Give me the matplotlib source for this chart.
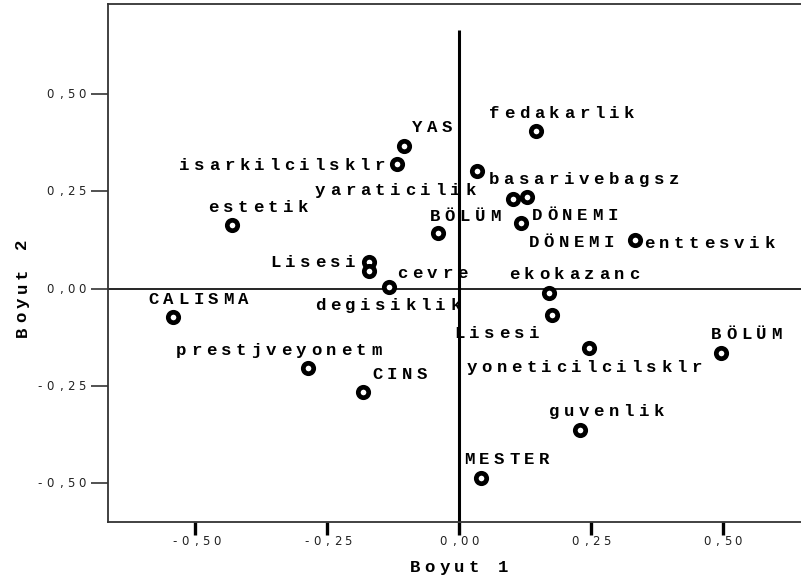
import matplotlib
matplotlib.use("Agg")
import matplotlib.pyplot as plt
import matplotlib.transforms as mtransforms

# ---------------- data ----------------
labels = ["fedakarlik", "YAS", "isarkilcilsklr", "basarivebagsz", "yaraticilik",
          "DÖNEMI", "DÖNEMI", "BÖLÜM", "enttesvik", "estetik", "Lisesi", "cevre",
          "degisiklik", "ekokazanc", "Lisesi", "CALISMA", "prestjveyonetm", "CINS",
          "yoneticilcilsklr", "BÖLÜM", "guvenlik", "MESTER"]
dim1 = [0.146, -0.104, -0.118, 0.034, 0.102, 0.129, 0.118, -0.040, 0.334, -0.431,
        -0.171, -0.171, -0.133, 0.171, 0.176, -0.543, -0.287, -0.182, 0.247, 0.498,
        0.230, 0.042]
dim2 = [0.405, 0.367, 0.320, 0.303, 0.231, 0.236, 0.169, 0.143, 0.125, 0.164,
        0.068, 0.045, 0.004, -0.012, -0.068, -0.074, -0.205, -0.265, -0.152, -0.166,
        -0.364, -0.487]
tick_vals = [-0.50, -0.25, 0.00, 0.25, 0.50]
xlabel = "Boyut 1"
ylabel = "Boyut 2"

# label placement (pixel offsets from the point, anchor)
label_pos = [(25.7, 17.7, "center"), (28, 19, "center"), (-10, -1, "right"),
             (9.3, -8.3, "left"), (-35, 9, "right"), (3, -18, "left"),
             (5, -18.7, "left"), (27, 17, "center"), (6.7, -2.7, "left"),
             (26, 18, "center"), (-11, 0, "right"), (26, -2, "left"),
             (-1, -18, "center"), (25, 19, "center"), (-10, -18.3, "right"),
             (25.5, 18, "center"), (-29, 18.3, "center"), (36.7, 17.4, "center"),
             (-5, -19.6, "center"), (25, 19, "center"), (26, 19, "center"),
             (25.7, 18.4, "center")]

W, H = 801, 581
fig = plt.figure(figsize=(W / 100, H / 100), dpi=100)
left_px, right_px, top_px, bottom_px = 107.7, 801, 4, 521.7
ax = fig.add_axes([left_px / W, 1 - bottom_px / H,
                   (right_px - left_px) / W, (bottom_px - top_px) / H])

x0_px, xs = 459.0, 527.0
y0_px, ys = 288.6, 388.7
ax.set_xlim((left_px - x0_px) / xs, (right_px - x0_px) / xs)
ax.set_ylim((y0_px - bottom_px) / ys, (y0_px - top_px) / ys)

LABEL_FONT = dict(family="Liberation Mono", fontweight="bold", fontsize=12.5, color="black")
TICK_FONT = dict(family="DejaVu Sans", fontsize=8.5, color="#222222")


def spaced_text(x, y, s, transform, pitch, ha="center", dx=0.0, dy=0.0,
                rotation=0, va="baseline", **kw):
    n = len(s)
    w = n * pitch
    start = {"left": 0.0, "center": -w / 2.0, "right": -w}[ha]
    for i, ch in enumerate(s):
        if ch == " ":
            continue
        off = start + (i + 0.5) * pitch
        if rotation == 0:
            tx, ty = dx + off, dy
        else:
            tx, ty = dx, dy + off
        tr = mtransforms.offset_copy(transform, fig=fig, x=tx, y=ty, units="dots")
        ax.text(x, y, ch, transform=tr, ha="center", va=va, rotation=rotation,
                clip_on=False, **kw)


# reference lines
ax.axhline(0, color="black", lw=1.2, zorder=1)
ax.vlines(0, ax.get_ylim()[0], 0.665, color="black", lw=2.2, zorder=1)

# points
ax.plot(dim1, dim2, linestyle="none", marker="o", ms=7.5, mew=3.4,
        mfc="white", mec="black", zorder=3)

# point labels
for xv, yv, lab, (dx, dy, ha) in zip(dim1, dim2, labels, label_pos):
    spaced_text(xv, yv, lab, ax.transData, 15.0, ha=ha, dx=dx, dy=dy - 5,
                **LABEL_FONT)

# spines and ticks
for side in ["left", "bottom", "top"]:
    ax.spines[side].set_color("#333333")
    ax.spines[side].set_linewidth(1.3)
ax.spines["right"].set_visible(False)
ax.set_xticks(tick_vals)
ax.set_yticks(tick_vals)
ax.set_xticklabels([])
ax.set_yticklabels([])
ax.tick_params(axis="x", direction="out", length=9, width=2.4, color="black")
ax.tick_params(axis="y", direction="out", length=12, width=1.2, color="#333333")

for t in tick_vals:
    s = f"{t:.2f}".replace(".", ",")
    spaced_text(t, 0, s, ax.get_xaxis_transform(), 10.5, ha="center",
                dy=-19.3 - 4, **TICK_FONT)
    spaced_text(0, t, s, ax.get_yaxis_transform(), 10.5, ha="right",
                dx=-20.7, dy=-4, **TICK_FONT)

# axis titles
spaced_text((459 - left_px) / (right_px - left_px), 0, xlabel,
            ax.transAxes, 14.6, ha="center", dy=-(567 - bottom_px) - 5,
            **LABEL_FONT)
spaced_text(0, (bottom_px - 288) / (bottom_px - top_px), ylabel,
            ax.transAxes, 14.6, ha="center", dx=-(left_px - 22), rotation=90,
            va="center", **LABEL_FONT)

fig.savefig("out.png", dpi=100, facecolor="white")
